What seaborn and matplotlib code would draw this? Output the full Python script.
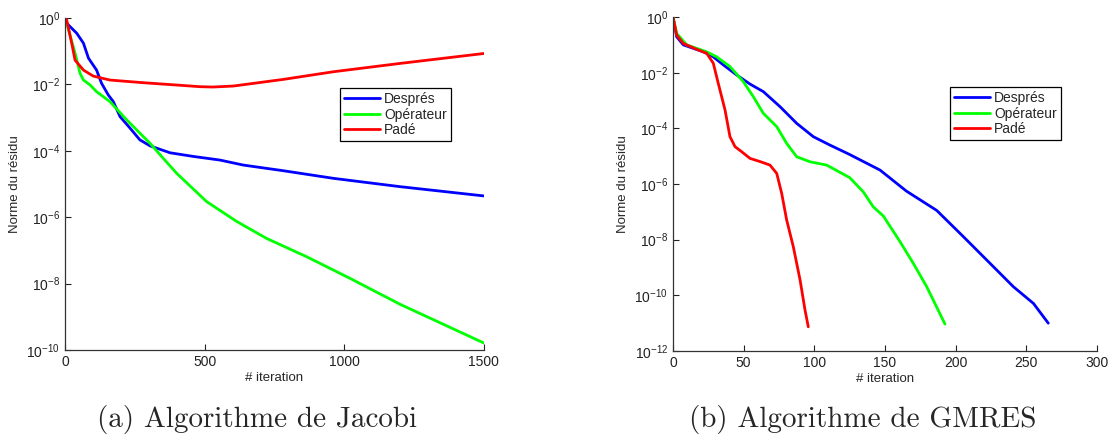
import numpy as np
import pandas as pd
import seaborn as sns
import matplotlib.pyplot as plt
from matplotlib.ticker import LogFormatterSciNotation, NullLocator

sns.set_style("ticks")
plt.rcParams["font.family"] = ["Liberation Sans", "DejaVu Sans"]
plt.rcParams["mathtext.fontset"] = "custom"
plt.rcParams["mathtext.rm"] = "Liberation Sans"
plt.rcParams["mathtext.it"] = "Liberation Sans:italic"

# Jacobi (iteration, log10 of residual norm)
jac_despres_it = [0, 6, 42, 66, 84, 113, 131, 155, 173, 197, 233, 268, 304, 376, 459, 555, 638, 722, 781,
                  961, 1199, 1500]
jac_despres_log = [0, -0.16, -0.46, -0.76, -1.21, -1.57, -1.97, -2.32, -2.52, -2.97, -3.32, -3.67, -3.85, -4.06,
                   -4.17, -4.28, -4.43, -4.53, -4.6, -4.83, -5.08, -5.36]
jac_oper_it = [0, 6, 36, 54, 66, 90, 113, 161, 221, 280, 304, 352, 400, 507, 615, 722, 865, 1020, 1199, 1500]
jac_oper_log = [0, -0.16, -1.06, -1.67, -1.87, -2.02, -2.22, -2.52, -3.07, -3.57, -3.77, -4.23, -4.68, -5.53,
                -6.13, -6.64, -7.19, -7.84, -8.62, -9.79]
jac_pade_it = [0, 6, 24, 36, 66, 101, 161, 280, 400, 483, 530, 603, 782, 961, 1199, 1500]
jac_pade_log = [0, -0.06, -0.76, -1.27, -1.57, -1.75, -1.87, -1.95, -2.02, -2.07, -2.08, -2.05, -1.85, -1.62,
                -1.37, -1.07]

# GMRES
gm_despres_it = [0, 2.6, 7.3, 21.5, 28.5, 35.6, 45, 54.5, 63.9, 75.7, 87.5, 99.3, 111, 125, 146.5, 165, 186.6,
                 205.4, 224.3, 240.8, 255, 265.5]
gm_despres_log = [0, -0.71, -1.0, -1.25, -1.43, -1.72, -2.08, -2.41, -2.68, -3.22, -3.82, -4.3, -4.6, -4.94, -5.5,
                  -6.25, -6.95, -7.89, -8.85, -9.69, -10.29, -11.0]
gm_oper_it = [0, 2.6, 9.7, 23.8, 30.9, 40.3, 49.7, 56.8, 63.9, 73.4, 80.4, 87.5, 96.9, 108.7, 125, 134.6, 141.7,
              148.8, 160.6, 170, 179.5, 192.4]
gm_oper_log = [0, -0.59, -1.0, -1.25, -1.43, -1.78, -2.32, -2.86, -3.46, -3.94, -4.54, -5.02, -5.2, -5.32, -5.77,
               -6.28, -6.82, -7.15, -8.07, -8.85, -9.69, -11.03]
gm_pade_it = [0, 2.6, 7.3, 16.7, 23.8, 28.5, 32, 36.8, 40.3, 43.9, 48.6, 54.5, 62, 68.6, 73.4, 76.9, 80.4, 85.1,
              89.9, 93.4, 95.7]
gm_pade_log = [0, -0.65, -0.95, -1.16, -1.3, -1.66, -2.38, -3.34, -4.3, -4.66, -4.84, -5.08, -5.2, -5.32, -5.62,
               -6.34, -7.29, -8.25, -9.45, -10.53, -11.13]

methods = ["Després", "Opérateur", "Padé"]
palette = {"Després": "#0000ff", "Opérateur": "#00ff00", "Padé": "#ff0000"}


def build_frame(its, logs):
    parts = []
    for name, it, lg in zip(methods, its, logs):
        parts.append(pd.DataFrame({"iteration": it, "residu": 10.0 ** np.array(lg), "method": name}))
    return pd.concat(parts, ignore_index=True)


df_jac = build_frame([jac_despres_it, jac_oper_it, jac_pade_it], [jac_despres_log, jac_oper_log, jac_pade_log])
df_gm = build_frame([gm_despres_it, gm_oper_it, gm_pade_it], [gm_despres_log, gm_oper_log, gm_pade_log])

fig = plt.figure(figsize=(11.15, 4.38), dpi=100)
ax1 = fig.add_axes([0.0583, 0.2009, 0.3757, 0.7581])
ax2 = fig.add_axes([0.6036, 0.1986, 0.3803, 0.7625])


def style_axes(ax, df, xmax, xticks, ymin, legend_anchor):
    sns.lineplot(data=df, x="iteration", y="residu", hue="method", palette=palette,
                 linewidth=2.0, sort=False, estimator=None, ax=ax)
    ax.set_yscale("log")
    ax.set_xlim(0, xmax)
    ax.set_ylim(10.0 ** ymin, 1)
    ax.set_xticks(xticks)
    ax.set_xticklabels([str(t) for t in xticks])
    ax.set_yticks([10.0 ** k for k in range(0, ymin - 1, -2)])
    ax.yaxis.set_major_formatter(LogFormatterSciNotation())
    ax.yaxis.set_minor_locator(NullLocator())
    ax.tick_params(direction="in", length=4, width=0.8, labelsize=10, colors="#222222")
    for s in ["top", "right"]:
        ax.spines[s].set_visible(False)
    for s in ["left", "bottom"]:
        ax.spines[s].set_color("#333333")
        ax.spines[s].set_linewidth(0.9)
    ax.set_xlabel("# iteration", fontsize=9.5, labelpad=2)
    ax.set_ylabel("Norme du résidu", fontsize=9.5, labelpad=4)
    leg = ax.legend(loc="upper left", bbox_to_anchor=legend_anchor, borderaxespad=0, fontsize=10,
                    frameon=True, fancybox=False, edgecolor="black", framealpha=1,
                    handlelength=2.6, labelspacing=0.1, borderpad=0.3, handletextpad=0.3)
    leg.get_frame().set_linewidth(0.9)
    for line in leg.get_lines():
        line.set_linewidth(2.0)


style_axes(ax1, df_jac, 1500, [0, 500, 1000, 1500], -10, (0.656, 0.789))
style_axes(ax2, df_gm, 300, [0, 50, 100, 150, 200, 250, 300], -12, (0.653, 0.790))

fig.text(257 / 1115, 1 - 419 / 438, "(a) Algorithme de Jacobi", family="cmr10", fontsize=21,
         ha="center", va="center")
fig.text(863 / 1115, 1 - 419 / 438, "(b) Algorithme de GMRES", family="cmr10", fontsize=21,
         ha="center", va="center")

fig.savefig("out.png", dpi=100)
